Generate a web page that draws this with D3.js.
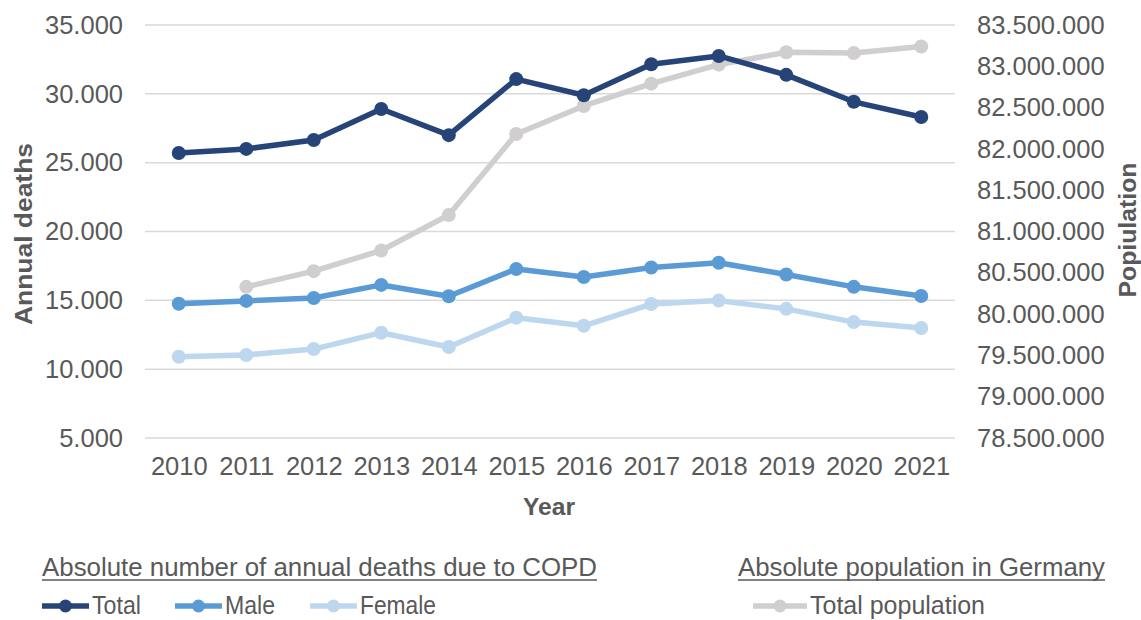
<!DOCTYPE html>
<html>
<head>
<meta charset="utf-8">
<script src="https://cdn.jsdelivr.net/npm/d3@7"></script>
<style>
  body { margin: 0; background: #fff; }
  text { font-family: "Liberation Sans", Arial, sans-serif; fill: #595959; }
</style>
</head>
<body>
<svg id="chart" width="1141" height="620"></svg>
<script>
const years = [2010, 2011, 2012, 2013, 2014, 2015, 2016, 2017, 2018, 2019, 2020, 2021];
const totalDeaths = [25700, 26000, 26650, 28900, 27000, 31070, 29900, 32150, 32750, 31380, 29420, 28320];
const maleDeaths = [14750, 14960, 15170, 16120, 15300, 17280, 16700, 17380, 17730, 16880, 15980, 15310];
const femaleDeaths = [10900, 11030, 11460, 12650, 11610, 13730, 13150, 14730, 14980, 14380, 13420, 12990];
// 2010 has no population value
const population = [null, 80330000, 80520000, 80770000, 81200000, 82180000, 82520000, 82790000, 83020000, 83170000, 83160000, 83240000];
const leftTicks = [5000, 10000, 15000, 20000, 25000, 30000, 35000];
const rightTicks = d3.range(78500000, 83500001, 500000);

const svg = d3.select("#chart");
const fmt = (v) => d3.format(",")(v).replace(/,/g, ".");

const x = d3.scalePoint().domain(years).range([145, 955]).padding(0.5);
const yLeft = d3.scaleLinear().domain([5000, 35000]).range([438, 25]);
const yRight = d3.scaleLinear().domain([78500000, 83500000]).range([438, 25]);

// gridlines
svg.append("g")
  .selectAll("line")
  .data(leftTicks)
  .join("line")
  .attr("x1", 145)
  .attr("x2", 955)
  .attr("y1", (d) => yLeft(d))
  .attr("y2", (d) => yLeft(d))
  .attr("stroke", "#d9d9d9")
  .attr("stroke-width", 1.5);

// left axis
const leftAxis = svg.append("g")
  .attr("transform", "translate(131,0)")
  .call(d3.axisLeft(yLeft).tickValues(leftTicks).tickFormat(fmt).tickSize(0).tickPadding(8));
leftAxis.select(".domain").remove();
leftAxis.selectAll("text").attr("font-size", 25.5).attr("fill", "#595959").attr("font-family", null);

// right axis
const rightAxis = svg.append("g")
  .attr("transform", "translate(969,0)")
  .call(d3.axisRight(yRight).tickValues(rightTicks).tickFormat(fmt).tickSize(0).tickPadding(8));
rightAxis.select(".domain").remove();
rightAxis.selectAll("text").attr("font-size", 25.5).attr("fill", "#595959").attr("font-family", null);

// x axis
const xAxis = svg.append("g")
  .attr("transform", "translate(0,451)")
  .call(d3.axisBottom(x).tickSize(0).tickPadding(6));
xAxis.select(".domain").remove();
xAxis.selectAll("text").attr("font-size", 25.5).attr("fill", "#595959").attr("font-family", null);

// axis titles
function title(label, tx, ty, rot, len) {
  svg.append("text")
    .attr("transform", `translate(${tx},${ty}) rotate(${rot})`)
    .attr("text-anchor", "middle")
    .attr("font-size", 24)
    .attr("font-weight", "bold")
    .attr("textLength", len)
    .attr("lengthAdjust", "spacingAndGlyphs")
    .text(label);
}
title("Annual deaths", 32, 234, -90, 182);
title("Popiulation", 1136, 230, -90, 135);
title("Year", 549, 515, 0, 52);

const series = [
  { name: "Population", values: population, y: yRight, color: "#d0cece" },
  { name: "Female", values: femaleDeaths, y: yLeft, color: "#bdd7ee" },
  { name: "Male", values: maleDeaths, y: yLeft, color: "#5b9bd5" },
  { name: "Total", values: totalDeaths, y: yLeft, color: "#264478" },
];

series.forEach((s) => {
  const pts = years.map((yr, i) => ({ year: yr, v: s.values[i] })).filter((d) => d.v != null);
  const line = d3.line().x((d) => x(d.year)).y((d) => s.y(d.v));
  svg.append("path")
    .datum(pts)
    .attr("d", line)
    .attr("fill", "none")
    .attr("stroke", s.color)
    .attr("stroke-width", 5.5)
    .attr("stroke-linejoin", "round");
  svg.append("g")
    .selectAll("circle")
    .data(pts)
    .join("circle")
    .attr("cx", (d) => x(d.year))
    .attr("cy", (d) => s.y(d.v))
    .attr("r", 7)
    .attr("fill", s.color);
});

// legend
function legendText(label, x0, y0, len) {
  return svg.append("text")
    .attr("x", x0)
    .attr("y", y0)
    .attr("font-size", 25)
    .attr("textLength", len)
    .attr("lengthAdjust", "spacingAndGlyphs")
    .text(label);
}
function legendHeader(label, x0, x1) {
  legendText(label, x0, 576, x1 - x0);
  svg.append("line")
    .attr("x1", x0).attr("x2", x1)
    .attr("y1", 580).attr("y2", 580)
    .attr("stroke", "#595959").attr("stroke-width", 1.5);
}
function legendItem(label, color, x0, len, textLen) {
  svg.append("line")
    .attr("x1", x0).attr("x2", x0 + len)
    .attr("y1", 606).attr("y2", 606)
    .attr("stroke", color).attr("stroke-width", 5.5);
  svg.append("circle").attr("cx", x0 + len / 2).attr("cy", 606).attr("r", 6.5).attr("fill", color);
  legendText(label, x0 + len + 3, 614, textLen);
}
legendHeader("Absolute number of annual deaths due to COPD", 42, 597);
legendHeader("Absolute population in Germany", 738, 1105);
legendItem("Total", "#264478", 42, 47, 49);
legendItem("Male", "#5b9bd5", 175, 47, 50);
legendItem("Female", "#bdd7ee", 310, 47, 76);
legendItem("Total population", "#d0cece", 753, 54, 175);
</script>
</body>
</html>
